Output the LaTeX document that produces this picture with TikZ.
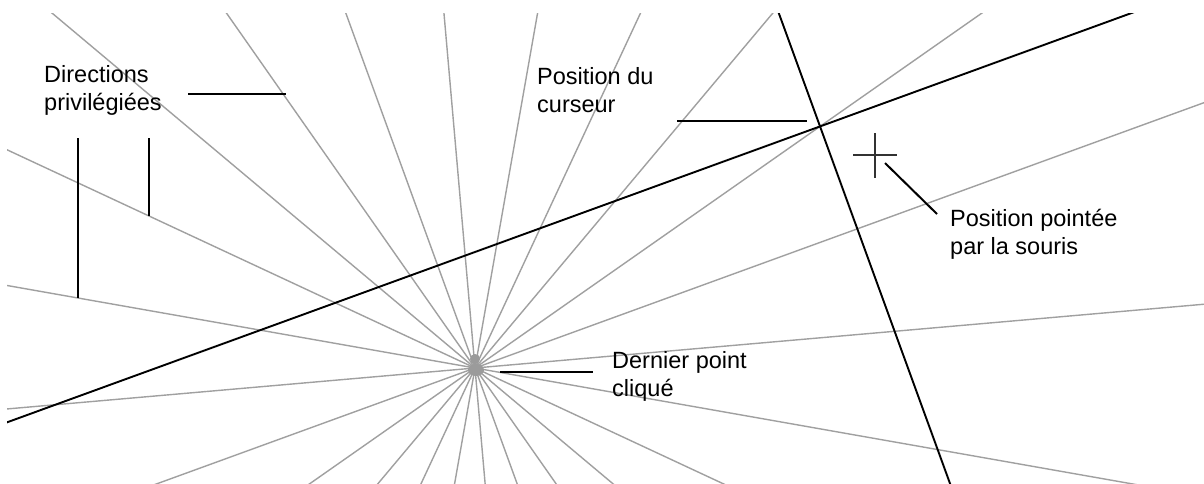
\documentclass[tikz,border=0pt]{standalone}
\usepackage{fontspec}
\setmainfont{Liberation Sans}
\usetikzlibrary{calc}
\definecolor{raygray}{RGB}{160,160,160}
\definecolor{blobgray}{RGB}{155,155,155}
\definecolor{crossgray}{RGB}{50,50,50}
\begin{document}
\begin{tikzpicture}[x=1pt,y=-1pt,
  ray/.style={draw=raygray, line width=1.4pt},
  guide/.style={draw=black, line width=1.9pt},
  leader/.style={draw=black, line width=2pt},
  crossmark/.style={draw=crossgray, line width=2.2pt},
  lbl/.style={font=\fontsize{23.5}{28}\selectfont, inner sep=0pt, anchor=base west, align=left},
]
\useasboundingbox (0,0) rectangle (1204,483);
\fill[white] (0,0) rectangle (1204,483);
\coordinate (C) at (475,368);
\coordinate (P) at ($(C)+(-35:421.2)$);
\begin{scope}
  \clip (7,13) rectangle (1210,490);
  \foreach \a in {5,20,...,170}
    \draw[ray] ($(C)+(-\a:900)$) -- ($(C)+(180-\a:900)$);
  \draw[guide] ($(P)+(-20:1300)$) -- ($(P)+(160:1300)$);
  \draw[guide] ($(P)+(-110:700)$) -- ($(P)+(70:700)$);
\end{scope}
% last clicked point mark
\fill[blobgray] (475,359) circle (5);
\fill[blobgray] (476,370) ellipse (8 and 6);
% mouse cross
\coordinate (M) at (875,155);
\draw[crossmark] ($(M)+(-22,0)$) -- ($(M)+(22,0)$) ($(M)+(0,-22)$) -- ($(M)+(0,23)$);
% labels (base anchor = baseline of the last line)
\node[lbl] (dir) at (44,110) {Directions\\privilégiées};
\node[lbl] (cur) at (537,112.5) {Position du\\curseur};
\node[lbl] (mouse) at (950,254) {Position pointée\\par la souris};
\node[lbl] (last) at (612,396) {Dernier point\\cliqué};
% leader lines
\coordinate (d1a) at (188,94);  \coordinate (d1b) at (286,94);
\coordinate (d2a) at (78,138);  \coordinate (d2b) at (78,298);
\coordinate (d3a) at (149,138); \coordinate (d3b) at (149,216);
\coordinate (ca) at (677,121);  \coordinate (cb) at (807,121);
\coordinate (ma) at (885,163);  \coordinate (mb) at (937,214);
\coordinate (la) at (500,372);  \coordinate (lb) at (593,372);
\draw[leader] (d1a) -- (d1b);
\draw[leader] (d2a) -- (d2b);
\draw[leader] (d3a) -- (d3b);
\draw[leader] (ca) -- (cb);
\draw[leader] (ma) -- (mb);
\draw[leader] (la) -- (lb);
\end{tikzpicture}
\end{document}
